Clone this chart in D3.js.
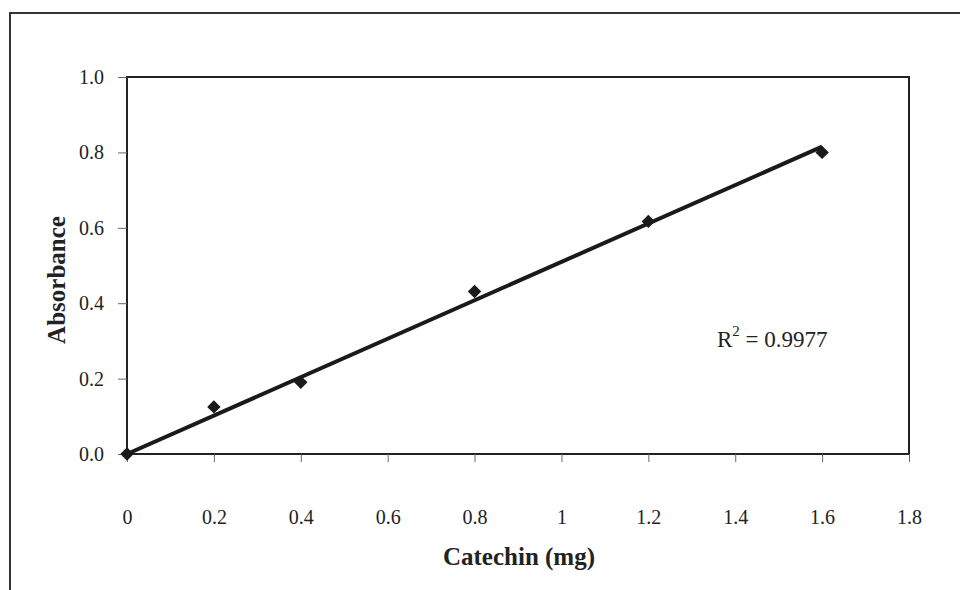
<!DOCTYPE html>
<html>
    <head>
        <title>Catechin standard curve</title>
        <script src="https://d3js.org/d3.v7.min.js"></script>
        <meta charset="UTF-8">
    </head>
    <body style="margin:0;background:#fff;">
        <script>
            var w = 960;
            var h = 590;

            // catechin standard readings
            var catechin = [0, 0.2, 0.4, 0.8, 1.2, 1.6];
            var absorbance = [0, 0.125, 0.19, 0.431, 0.617, 0.80];
            var xTicks = [0, 0.2, 0.4, 0.6, 0.8, 1, 1.2, 1.4, 1.6, 1.8];
            var yTicks = [0, 0.2, 0.4, 0.6, 0.8, 1.0];
            var r2Label = "0.9977";

            var plotL = 127, plotR = 909, plotT = 77, plotB = 454;
            var font = "'Liberation Serif', 'Times New Roman', serif";

            var xscale = d3.scaleLinear().domain([0, 1.8]).range([plotL, plotR]);
            var yscale = d3.scaleLinear().domain([0, 1]).range([plotB, plotT]);

            var svg = d3.select("body").append("svg")
                    .attr("width", w)
                    .attr("height", h)
                    .style("display", "block");

            // outer chart frame (runs off the right and bottom)
            svg.append("rect")
                    .attr("x", 10).attr("y", 13)
                    .attr("width", 990).attr("height", 600)
                    .attr("fill", "none")
                    .attr("stroke", "#333")
                    .attr("stroke-width", 2);

            // plot area box
            svg.append("rect")
                    .attr("x", plotL).attr("y", plotT)
                    .attr("width", plotR - plotL).attr("height", plotB - plotT)
                    .attr("fill", "none")
                    .attr("stroke", "#222")
                    .attr("stroke-width", 2);

            var yAxis = svg.append("g")
                    .attr("transform", "translate(" + plotL + ",0)")
                    .call(d3.axisLeft(yscale).tickValues(yTicks)
                            .tickFormat(d3.format(".1f")).tickSize(9).tickPadding(14));
            var xAxis = svg.append("g")
                    .attr("transform", "translate(0," + plotB + ")")
                    .call(d3.axisBottom(xscale).tickValues(xTicks)
                            .tickFormat(function (d) { return String(d); })
                            .tickSize(8).tickPadding(48));

            [xAxis, yAxis].forEach(function (g) {
                g.select(".domain").remove();
                g.selectAll("line").attr("stroke", "#666").attr("stroke-width", 1);
                g.selectAll("text")
                        .style("font-family", font)
                        .style("font-size", "20px")
                        .attr("fill", "#222");
            });

            // trend line fitted through the origin
            var sxy = d3.sum(catechin, function (d, i) { return d * absorbance[i]; });
            var sxx = d3.sum(catechin, function (d) { return d * d; });
            var slope = sxy / sxx;
            var x0 = d3.min(catechin), x1 = d3.max(catechin);

            svg.append("line")
                    .attr("x1", xscale(x0)).attr("y1", yscale(slope * x0))
                    .attr("x2", xscale(x1)).attr("y2", yscale(slope * x1))
                    .attr("stroke", "#1a1a1a")
                    .attr("stroke-width", 4);

            var pts = catechin.map(function (d, i) { return [d, absorbance[i]]; });
            svg.selectAll("path.pt")
                    .data(pts)
                    .enter()
                    .append("path")
                    .attr("class", "pt")
                    .attr("d", d3.symbol().type(d3.symbolSquare).size(90))
                    .attr("transform", function (d) {
                        return "translate(" + xscale(d[0]) + "," + yscale(d[1]) + ") rotate(45)";
                    })
                    .attr("fill", "#1a1a1a");

            // R squared label
            var r2 = svg.append("text")
                    .attr("x", 717).attr("y", 347)
                    .style("font-family", font)
                    .style("font-size", "23px")
                    .attr("fill", "#222");
            r2.append("tspan").text("R");
            r2.append("tspan").attr("dy", -11).style("font-size", "15px").text("2");
            r2.append("tspan").attr("dy", 11).text(" = " + r2Label);

            // axis titles
            svg.append("text")
                    .attr("x", 519).attr("y", 565)
                    .attr("text-anchor", "middle")
                    .style("font-family", font)
                    .style("font-size", "25px")
                    .style("font-weight", "bold")
                    .attr("fill", "#222")
                    .text("Catechin (mg)");

            svg.append("text")
                    .attr("transform", "translate(65,280) rotate(-90)")
                    .attr("text-anchor", "middle")
                    .style("font-family", font)
                    .style("font-size", "25px")
                    .style("font-weight", "bold")
                    .attr("fill", "#222")
                    .text("Absorbance");
        </script>
    </body>
</html>
